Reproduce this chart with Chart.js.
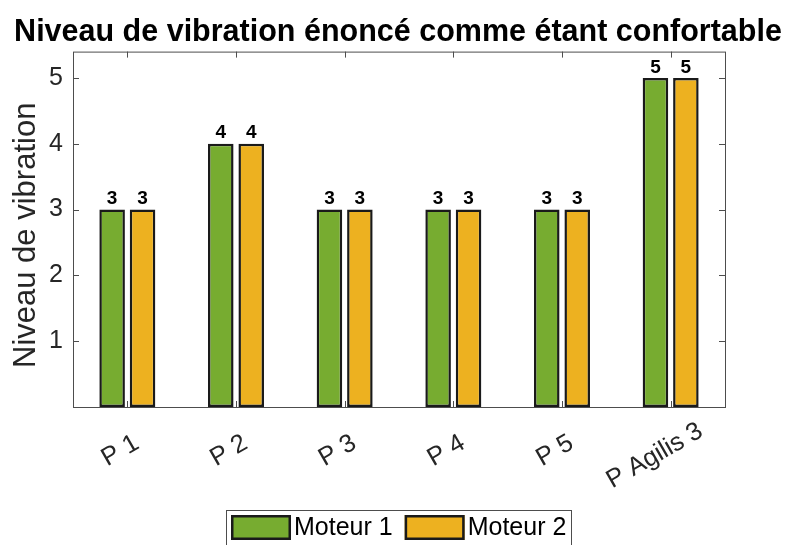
<!DOCTYPE html>
<html>
<head>
<meta charset="utf-8">
<script src="https://cdn.jsdelivr.net/npm/chart.js@4"></script>
<style>
  html, body { margin: 0; padding: 0; background: #fff; }
  #wrap { width: 788px; height: 545px; }
</style>
</head>
<body>
<div id="wrap"><canvas id="chart"></canvas></div>
<script>
const categories = ['P 1', 'P 2', 'P 3', 'P 4', 'P 5', 'P Agilis 3'];
const moteur1 = [3, 4, 3, 3, 3, 5];
const moteur2 = [3, 4, 3, 3, 3, 5];
const yTicks = [1, 2, 3, 4, 5];
const seriesNames = ['Moteur 1', 'Moteur 2'];
const seriesColors = ['#77AC30', '#EDB120'];
const yTitle = 'Niveau de vibration';

const FONT = '"Liberation Sans", Arial, sans-serif';
const AXIS = '#262626';
const EDGE = '#1a1a1a';

// box around the axes with inward ticks on all four sides
const axesBox = {
  id: 'axesBox',
  afterDraw(chart) {
    const { ctx, chartArea: a, scales } = chart;
    ctx.save();
    ctx.strokeStyle = '#4d4d4d';
    ctx.lineWidth = 1;
    ctx.strokeRect(a.left + 0.5, a.top + 0.5, a.right - a.left, a.bottom - a.top);
    ctx.beginPath();
    yTicks.forEach(v => {
      const y = Math.round(scales.y.getPixelForValue(v)) + 0.5;
      ctx.moveTo(a.left, y); ctx.lineTo(a.left + 6, y);
      ctx.moveTo(a.right, y); ctx.lineTo(a.right - 6, y);
    });
    categories.forEach((c, i) => {
      const x = Math.round(scales.x.getPixelForValue(i)) + 0.5;
      ctx.moveTo(x, a.top); ctx.lineTo(x, a.top + 6);
      ctx.moveTo(x, a.bottom); ctx.lineTo(x, a.bottom - 6);
    });
    ctx.stroke();
    ctx.restore();
  }
};

// slanted category labels (30deg), pivot a third of the way in from the end
const slantLabels = {
  id: 'slantLabels',
  afterDraw(chart) {
    const { ctx, chartArea: a, scales } = chart;
    const ang = -30 * Math.PI / 180;
    ctx.save();
    ctx.font = '25.5px ' + FONT;
    ctx.fillStyle = AXIS;
    ctx.textAlign = 'right';
    ctx.textBaseline = 'alphabetic';
    categories.forEach((c, i) => {
      const w = ctx.measureText(c).width;
      ctx.save();
      ctx.translate(scales.x.getPixelForValue(i) + 1.5, a.bottom + 47);
      ctx.rotate(ang);
      ctx.fillText(c, 0.35 * w, 0);
      ctx.restore();
    });
    // y axis title
    ctx.font = '31px ' + FONT;
    ctx.textAlign = 'center';
    ctx.translate(35, (a.top + a.bottom) / 2 + 6);
    ctx.rotate(-Math.PI / 2);
    ctx.fillText(yTitle, 0, 0);
    ctx.restore();
  }
};

// value labels above each bar
const barValues = {
  id: 'barValues',
  afterDatasetsDraw(chart) {
    const { ctx } = chart;
    ctx.save();
    ctx.font = 'bold 19px ' + FONT;
    ctx.fillStyle = '#000';
    ctx.textAlign = 'center';
    ctx.textBaseline = 'bottom';
    chart.data.datasets.forEach((ds, di) => {
      chart.getDatasetMeta(di).data.forEach((bar, i) => {
        ctx.fillText(String(ds.data[i]), bar.x, bar.y - 1);
      });
    });
    ctx.restore();
  }
};

// framed legend under the x labels: swatch, then name right next to it
const boxedLegend = {
  id: 'boxedLegend',
  afterDraw(chart) {
    const { ctx, chartArea: a } = chart;
    const sw = 60, sh = 25, gap = 3, itemGap = 12, pad = 5;
    ctx.save();
    ctx.font = '25px ' + FONT;
    const widths = seriesNames.map(n => ctx.measureText(n).width);
    const total = pad * 2 + widths.reduce((s, w) => s + sw + gap + w, 0) + itemGap * (seriesNames.length - 1);
    const left = Math.round((a.left + a.right) / 2 - total / 2);
    const top = Math.round(a.bottom + 103);
    ctx.strokeStyle = '#4d4d4d';
    ctx.lineWidth = 1;
    ctx.strokeRect(left + 0.5, top + 0.5, Math.round(total), 40);
    let x = left + pad;
    const cy = top + 5 + sh / 2;
    seriesNames.forEach((name, i) => {
      ctx.fillStyle = seriesColors[i];
      ctx.fillRect(x, cy - sh / 2, sw, sh);
      ctx.strokeStyle = EDGE;
      ctx.lineWidth = 2.5;
      ctx.strokeRect(x + 1.25, cy - sh / 2 + 1.25, sw - 2.5, sh - 2.5);
      ctx.fillStyle = '#000';
      ctx.textAlign = 'left';
      ctx.textBaseline = 'middle';
      ctx.fillText(name, x + sw + gap, cy + 1);
      x += sw + gap + widths[i] + itemGap;
    });
    ctx.restore();
  }
};

const barStyle = {
  borderColor: EDGE,
  borderWidth: 2.5,
  borderSkipped: false,
  categoryPercentage: 0.56,
  barPercentage: 0.84
};

new Chart(document.getElementById('chart'), {
  type: 'bar',
  data: {
    labels: categories,
    datasets: seriesNames.map((name, i) => ({
      label: name,
      data: i === 0 ? moteur1 : moteur2,
      backgroundColor: seriesColors[i],
      ...barStyle
    }))
  },
  options: {
    responsive: true,
    maintainAspectRatio: false,
    animation: false,
    layout: { padding: { left: 8, right: 0, top: 0, bottom: 0 } },
    plugins: {
      title: {
        display: true,
        text: 'Niveau de vibration énoncé comme étant confortable',
        color: '#000',
        font: { family: FONT, size: 30.5, weight: 'bold', lineHeight: 1.2 },
        padding: { top: 14, bottom: 1 }
      },
      legend: { display: false },
      tooltip: { enabled: false }
    },
    scales: {
      x: {
        grid: { display: false, drawTicks: false },
        border: { display: false },
        ticks: { display: false },
        afterFit(scale) { scale.height = 138; }
      },
      y: {
        min: 0,
        max: 5.4,
        grid: { display: false, drawTicks: false },
        border: { display: false },
        afterBuildTicks(scale) { scale.ticks = yTicks.map(v => ({ value: v })); },
        ticks: {
          color: AXIS,
          font: { family: FONT, size: 25 },
          padding: 10
        },
        afterFit(scale) { scale.width = 65; }
      },
      yRight: {
        position: 'right',
        min: 0,
        max: 5.4,
        grid: { display: false, drawTicks: false },
        border: { display: false },
        ticks: { display: false },
        afterFit(scale) { scale.width = 63; }
      }
    }
  },
  plugins: [axesBox, slantLabels, barValues, boxedLegend]
});
</script>
</body>
</html>
